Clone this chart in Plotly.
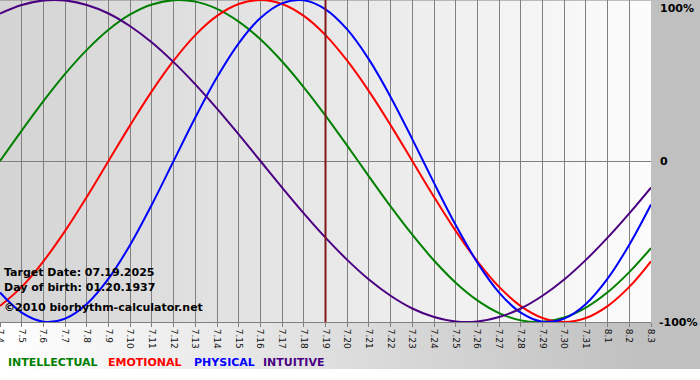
import base64
import plotly.graph_objects as go

# ---- data ----
tick_labels = ["7.4", "7.5", "7.6", "7.7", "7.8", "7.9", "7.10", "7.11", "7.12", "7.13",
               "7.14", "7.15", "7.16", "7.17", "7.18", "7.19", "7.20", "7.21", "7.22",
               "7.23", "7.24", "7.25", "7.26", "7.27", "7.28", "7.29", "7.30", "7.31",
               "8.1", "8.2", "8.3"]
days = list(range(len(tick_labels)))

intellectual = [0, 18.9, 37.2, 54.1, 69.0, 81.5, 91.0, 97.2, 99.9, 99.0, 94.5, 86.6, 75.6,
                61.8, 45.8, 28.2, 9.5, -9.5, -28.2, -45.8, -61.8, -75.6, -86.6, -94.5,
                -99.0, -99.9, -97.2, -91.0, -81.5, -69.0, -54.1]
emotional = [-90.1, -78.2, -62.3, -43.4, -22.3, 0, 22.3, 43.4, 62.3, 78.2, 90.1, 97.5, 100,
             97.5, 90.1, 78.2, 62.3, 43.4, 22.3, 0, -22.3, -43.4, -62.3, -78.2, -90.1,
             -97.5, -100, -97.5, -90.1, -78.2, -62.3]
physical = [-81.7, -94.2, -99.8, -97.9, -88.8, -73.1, -52.0, -27.0, 0, 27.0, 52.0, 73.1,
            88.8, 97.9, 99.8, 94.2, 81.7, 63.1, 39.8, 13.6, -13.6, -39.8, -63.1, -81.7,
            -94.2, -99.8, -97.9, -88.8, -73.1, -52.0, -27.0]
intuitive = [91.6, 96.9, 99.7, 99.7, 96.9, 91.6, 83.7, 73.6, 61.4, 47.6, 32.5, 16.5, 0,
             -16.5, -32.5, -47.6, -61.4, -73.6, -83.7, -91.6, -96.9, -99.7, -99.7, -96.9,
             -91.6, -83.7, -73.6, -61.4, -47.6, -32.5, -16.5]

series_names = ["INTELLECTUAL", "EMOTIONAL", "PHYSICAL", "INTUITIVE"]
series_colors = ["#008000", "#ff0000", "#0000ff", "#4b0082"]
series_values = [intellectual, emotional, physical, intuitive]
legend_x_px = [7, 107, 193, 262]

target_index = 15  # 7.19
target_text = "Target Date: 07.19.2025"
birth_text = "Day of birth: 01.20.1937"
copyright_text = "\u00a92010 biorhythm-calculator.net"

# ---- layout geometry ----
W, H = 700, 380
PL, PR, PT, PB = 0, 49, 0, 58
PW, PH = W - PL - PR, H - PT - PB
FONT = "DejaVu Sans"


def svg_uri(svg):
    return "data:image/svg+xml;base64," + base64.b64encode(svg.encode()).decode()


outer_svg = (
    f'<svg xmlns="http://www.w3.org/2000/svg" width="{W}" height="{H}" viewBox="0 0 {W} {H}" preserveAspectRatio="none">'
    '<defs><linearGradient id="g" x1="0" x2="1" y1="0" y2="0">'
    '<stop offset="0" stop-color="#ffffff"/><stop offset="0.92" stop-color="#c0c0c0"/>'
    '<stop offset="1" stop-color="#c0c0c0"/></linearGradient></defs>'
    f'<rect x="0" y="0" width="{W}" height="369" fill="url(#g)"/>'
    f'<rect x="0" y="369" width="{W}" height="{H-369}" fill="#ffffff"/></svg>'
)
plot_svg = (
    f'<svg xmlns="http://www.w3.org/2000/svg" width="{PW}" height="{PH}" viewBox="0 0 {PW} {PH}" preserveAspectRatio="none">'
    '<defs><linearGradient id="p" x1="0" x2="1" y1="0" y2="0">'
    '<stop offset="0" stop-color="#d4d4d4"/><stop offset="1" stop-color="#fcfcfc"/>'
    '</linearGradient></defs>'
    f'<rect x="0" y="0" width="{PW}" height="{PH}" fill="url(#p)"/></svg>'
)

fig = go.Figure()
for name, color, vals in zip(series_names, series_colors, series_values):
    fig.add_trace(go.Scatter(
        x=days, y=vals, mode="lines", name=name,
        line=dict(color=color, width=2, shape="spline", smoothing=1.0),
        hoverinfo="skip", showlegend=False,
    ))

fig.add_shape(type="line", xref="x", yref="y", x0=target_index, x1=target_index,
              y0=-100, y1=100, line=dict(color="#801818", width=2), layer="above")
fig.add_shape(type="line", xref="paper", yref="y", x0=0, x1=1, y0=100, y1=100,
              line=dict(color="#808080", width=1), layer="below")

fig.update_layout(
    width=W, height=H,
    margin=dict(l=PL, r=PR, t=PT, b=PB, pad=0, autoexpand=False),
    paper_bgcolor="#ffffff",
    plot_bgcolor="rgba(0,0,0,0)",
    font=dict(family=FONT, color="#000000"),
    images=[
        dict(source=svg_uri(outer_svg), xref="paper", yref="paper", x=0, y=1,
             sizex=W / PW, sizey=H / PH, xanchor="left", yanchor="top",
             sizing="stretch", layer="below"),
        dict(source=svg_uri(plot_svg), xref="paper", yref="paper", x=0, y=1,
             sizex=1, sizey=1, xanchor="left", yanchor="top",
             sizing="stretch", layer="below"),
    ],
    xaxis=dict(
        range=[0, len(days) - 1], tickmode="array", tickvals=days, ticktext=tick_labels,
        tickangle=90, tickfont=dict(family=FONT, size=9, color="#111111"),
        ticklabeloverflow="allow", automargin=False,
        showgrid=True, gridcolor="#808080", gridwidth=1,
        showline=True, linecolor="#808080", linewidth=1,
        ticks="outside", ticklen=4, tickcolor="#808080", zeroline=False, fixedrange=True,
    ),
    yaxis=dict(
        range=[-100, 100], showgrid=False, showticklabels=False, automargin=False,
        zeroline=True, zerolinecolor="#808080", zerolinewidth=1, fixedrange=True,
    ),
)


def py(pix):
    return 1 - (pix - PT) / PH


annots = [
    dict(text="<b>100%</b>", x=1, y=py(8), xshift=7),
    dict(text="<b>0</b>", x=1, y=py(162), xshift=7),
    dict(text="<b>-100%</b>", x=1, y=py(322), xshift=6),
    dict(text="<b>" + target_text + "</b>", x=0, y=py(272), xshift=2),
    dict(text="<b>" + birth_text + "</b>", x=0, y=py(287), xshift=2),
    dict(text="<b>" + copyright_text + "</b>", x=0, y=py(307), xshift=2),
]
for n, c, px in zip(series_names, series_colors, legend_x_px):
    annots.append(dict(text=f'<span style="color:{c}"><b>{n}</b></span>',
                       x=0, y=py(362), xshift=px - 1))

for a in annots:
    fig.add_annotation(xref="paper", yref="paper", xanchor="left", yanchor="middle",
                       showarrow=False, font=dict(family=FONT, size=11, color="#000000"), **a)

fig.write_html(
    "out.html",
    config={"displayModeBar": False, "staticPlot": True},
    post_script="document.body.style.margin='0px';document.body.style.overflow='hidden';",
)
